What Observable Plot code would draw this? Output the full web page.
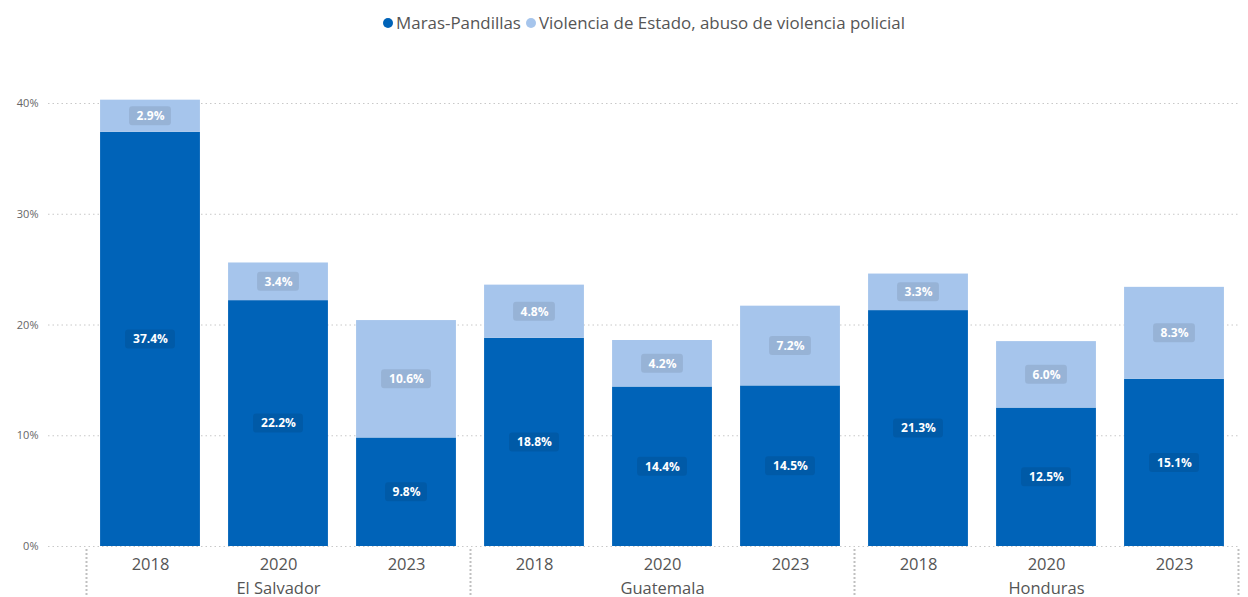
<!DOCTYPE html>
<html>
<head>
<meta charset="utf-8">
<script src="https://cdn.jsdelivr.net/npm/d3@7"></script>
<script src="https://cdn.jsdelivr.net/npm/@observablehq/plot@0.6"></script>
<style>
  body { margin: 0; background: #fff; font-family: "Segoe UI", "Open Sans", "Noto Sans", sans-serif; }
  #legend { height: 45px; display: flex; align-items: center; justify-content: center; font-size: 16.9px; color: #555; gap: 5px; padding-left: 40px; box-sizing: border-box; }
  .sw { display: inline-block; width: 10px; height: 10px; border-radius: 50%; margin-right: 3px; vertical-align: middle; }
  .item { display: inline-flex; align-items: center; }
</style>
</head>
<body>
<div id="legend"></div>
<div id="chart"></div>
<script>
const countries = ["El Salvador", "Guatemala", "Honduras"];
const years = ["2018", "2020", "2023"];
const seriesNames = ["Maras-Pandillas", "Violencia de Estado, abuso de violencia policial"];
const colors = ["#0063B8", "#A6C5EC"];
// values per country, per year
const maras = [[37.4, 22.2, 9.8], [18.8, 14.4, 14.5], [21.3, 12.5, 15.1]];
const violencia = [[2.9, 3.4, 10.6], [4.8, 4.2, 7.2], [3.3, 6.0, 8.3]];
const yTicks = [0, 10, 20, 30, 40];

const rows = [];
countries.forEach((c, ci) => {
  years.forEach((yr, yi) => {
    const key = c + "|" + yr;
    const a = maras[ci][yi], b = violencia[ci][yi];
    rows.push({key, country: c, year: yr, series: seriesNames[0], value: a, mid: a / 2, label: a.toFixed(1) + "%"});
    rows.push({key, country: c, year: yr, series: seriesNames[1], value: b, mid: a + b / 2, label: b.toFixed(1) + "%"});
  });
});
const keys = countries.flatMap(c => years.map(y => c + "|" + y));

// legend
const lg = document.getElementById("legend");
seriesNames.forEach((s, i) => {
  const it = document.createElement("span");
  it.className = "item";
  it.innerHTML = `<span class="sw" style="background:${colors[i]}"></span>${s}`;
  lg.appendChild(it);
});

const pxPerUnit = 443 / 40;
const halfBox = 9.5 / pxPerUnit;
const short = rows.filter(d => d.label.length <= 4);
const long = rows.filter(d => d.label.length > 4);

const boxMark = (data, w) => Plot.barY(data, {
  x: "key", y1: d => d.mid - halfBox, y2: d => d.mid + halfBox,
  fill: "#000", fillOpacity: 0.09, rx: 3,
  insetLeft: (100 - w) / 2, insetRight: (100 - w) / 2
});

const sepStyle = { stroke: "#c0c0c0", strokeWidth: 2, strokeDasharray: "2,2", insetTop: 446, insetBottom: -51 };

const plot = Plot.plot({
  width: 1248,
  height: 552,
  marginTop: 58,
  marginBottom: 51,
  marginLeft: 48,
  marginRight: 8,
  style: { fontFamily: "'Segoe UI', 'Open Sans', 'Noto Sans', sans-serif", background: "#fff" },
  x: { domain: keys, range: [86, 1238], paddingInner: 0.22, paddingOuter: 0.11, round: false, label: null, axis: null },
  y: { domain: [0, 40], label: null, axis: null },
  color: { domain: seriesNames, range: colors },
  marks: [
    Plot.gridY(yTicks, { stroke: "#c8c8c8", strokeOpacity: 1, strokeDasharray: "1.5,3" }),
    Plot.axisY(yTicks, { tickSize: 0, tickPadding: 10, tickFormat: d => d + "%", fontSize: 11, fill: "#666", label: null }),
    Plot.axisX({ tickSize: 0, tickPadding: 12, tickFormat: k => k.split("|")[1], fontSize: 16.5, fill: "#555", label: null }),
    Plot.barY(rows, Plot.stackY({ x: "key", y: "value", fill: "series", order: null })),
    boxMark(short, 42),
    boxMark(long, 50),
    Plot.text(rows, { x: "key", y: "mid", text: "label", fill: "#fff", fontWeight: "bold", fontSize: 12 }),
    Plot.text(countries, { x: c => c + "|2020", frameAnchor: "bottom", dy: 47, text: d => d, fontSize: 16.5, fill: "#555" }),
    Plot.ruleX(["El Salvador|2018", "Guatemala|2018", "Honduras|2018"], { x: d => d, dx: -64, ...sepStyle }),
    Plot.ruleX(["Honduras|2023"], { x: d => d, dx: 64, ...sepStyle })
  ]
});
document.getElementById("chart").appendChild(plot);
</script>
</body>
</html>
